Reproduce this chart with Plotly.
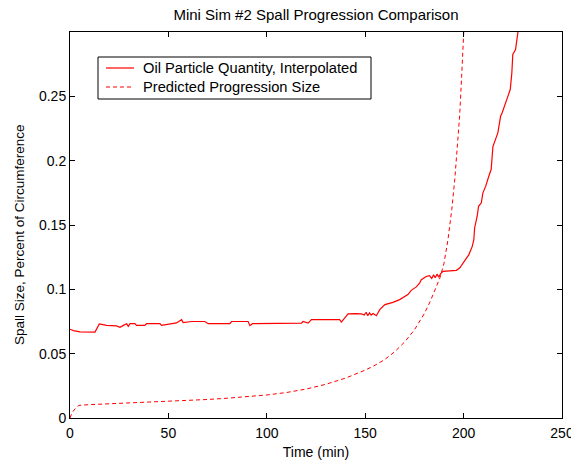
import plotly.graph_objects as go

# Oil particle quantity, interpolated (time in minutes, spall fraction of circumference)
oil_t = [0, 1.7, 5.1, 11.8, 12.7, 14.9, 18.6, 23.7, 25.4, 27.1, 28.8, 29.6, 30.5, 33.0, 33.8,
         38.0, 38.9, 45.7, 46.5, 54.1, 56.7, 57.5, 61.8, 68.5, 70.2, 81.2, 82.1, 90.5, 91.4,
         92.7, 96.4, 106.6, 117.6, 118.4, 121.0, 122.7, 137.0, 137.9, 141.3, 145.0, 148.1,
         149.5, 150.5, 151.3, 152.2, 153.0, 154.0, 155.7, 157.4, 160.0, 164.1, 167.5, 171.7,
         173.4, 176.0, 177.7, 178.5, 181.0, 182.7, 183.8, 184.8, 185.6, 186.5, 187.4, 188.3,
         189.5, 192.0, 196.3, 198.0, 200.5, 202.7, 204.4, 205.2, 205.6, 206.9, 207.6, 209.0,
         209.8, 211.2, 212.8, 214.0, 214.9, 216.6, 217.4, 218.8, 219.6, 222.5, 223.7, 224.5,
         225.0, 226.4, 227.6, 228.5]
oil_v = [0.0690, 0.0679, 0.0669, 0.0666, 0.0668, 0.0731, 0.0720, 0.0716, 0.0705, 0.0720, 0.0733,
         0.0712, 0.0733, 0.0733, 0.0720, 0.0720, 0.0733, 0.0733, 0.0720, 0.0739, 0.0764, 0.0742,
         0.0750, 0.0750, 0.0733, 0.0733, 0.0750, 0.0750, 0.0718, 0.0733, 0.0733, 0.0737, 0.0737,
         0.0750, 0.0737, 0.0764, 0.0764, 0.0746, 0.0809, 0.0811, 0.0809, 0.0800, 0.0822, 0.0795,
         0.0818, 0.0800, 0.0812, 0.0795, 0.0842, 0.0881, 0.0899, 0.0920, 0.0959, 0.0992, 0.1019,
         0.1050, 0.1075, 0.1100, 0.1106, 0.1085, 0.1112, 0.1090, 0.1118, 0.1095, 0.1120, 0.1140,
         0.1142, 0.1148, 0.1166, 0.1218, 0.1270, 0.1334, 0.1386, 0.1477, 0.1568, 0.1645, 0.1672,
         0.1750, 0.1800, 0.1879, 0.1931, 0.2110, 0.2190, 0.2216, 0.2345, 0.2372, 0.2500, 0.2553,
         0.2680, 0.2825, 0.2864, 0.3000, 0.3100]

# Predicted progression size from the model
pred_t = [0, 1, 2.5, 4.5, 10, 20, 30, 40, 50, 60, 70, 80, 90, 100, 110, 120, 130, 140, 150,
          155, 160, 165, 170, 175, 180, 183, 186, 188, 190, 192, 194, 195.5, 197, 198, 199,
          200, 201]
pred_v = [0.0, 0.004, 0.007, 0.0098, 0.0104, 0.0110, 0.0115, 0.0121, 0.0127, 0.0135, 0.0144,
          0.0154, 0.0166, 0.0179, 0.0198, 0.0225, 0.0262, 0.0310, 0.0372, 0.0410, 0.0455,
          0.0515, 0.0590, 0.0685, 0.0810, 0.0905, 0.1015, 0.1090, 0.1200, 0.1380, 0.1620,
          0.1850, 0.2150, 0.2350, 0.2650, 0.2950, 0.3300]

x_ticks = [0, 50, 100, 150, 200, 250]
y_ticks = [0, 0.05, 0.1, 0.15, 0.2, 0.25]
y_tick_text = ["0", "0.05", "0.1", "0.15", "0.2", "0.25"]

series_names = ["Oil Particle Quantity, Interpolated", "Predicted Progression Size"]
series_dash = ["solid", "4px,3px"]
series_width = [1.2, 1.0]

FONT = "Liberation Sans, Arial, Helvetica, sans-serif"
RED = "#ff0000"

W, H = 571, 460
ML, MR, MT, MB = 70, 9, 32, 42
PW, PH = W - ML - MR, H - MT - MB


def px_x(p):
    """Pixel column -> paper x."""
    return (p - ML) / PW


def px_y(p):
    """Pixel row -> paper y."""
    return (H - MB - p) / PH


fig = go.Figure()
for xs, ys, name, dash, lw in zip([oil_t, pred_t], [oil_v, pred_v], series_names,
                                  series_dash, series_width):
    fig.add_trace(go.Scatter(x=xs, y=ys, mode="lines", name=name, showlegend=False,
                             line=dict(color=RED, width=lw, dash=dash)))

axis_common = dict(showline=True, linecolor="black", linewidth=1, mirror="ticks",
                   ticks="inside", ticklen=5, tickwidth=1, tickcolor="black",
                   showgrid=False, zeroline=False, ticklabeloverflow="allow",
                   automargin=False,
                   tickfont=dict(family=FONT, size=14, color="black"))

# Legend box drawn in the upper-left corner of the axes
shapes = [dict(type="rect", xref="paper", yref="paper",
               x0=px_x(98), x1=px_x(371), y0=px_y(99), y1=px_y(57),
               line=dict(color="black", width=1), fillcolor="white", layer="above")]
annotations = []
for i, (name, dash, lw) in enumerate(zip(series_names, series_dash, series_width)):
    row = 68 + 19 * i
    shapes.append(dict(type="line", xref="paper", yref="paper",
                       x0=px_x(106), x1=px_x(134), y0=px_y(row), y1=px_y(row),
                       line=dict(color=RED, width=lw, dash=dash), layer="above"))
    annotations.append(dict(text=name, xref="paper", yref="paper",
                            x=px_x(141), y=px_y(row), xanchor="left", yanchor="middle",
                            showarrow=False,
                            font=dict(family=FONT, size=14.7, color="black")))

# Y-axis label
annotations.append(dict(text="Spall Size, Percent of Circumference", textangle=-90,
                        xref="paper", yref="paper", x=px_x(19), y=px_y(235),
                        xanchor="center", yanchor="middle", showarrow=False,
                        font=dict(family=FONT, size=13.5, color="black")))

fig.update_layout(
    width=W, height=H,
    margin=dict(l=ML, r=MR, t=MT, b=MB, autoexpand=False),
    paper_bgcolor="white", plot_bgcolor="white",
    font=dict(family=FONT, size=14, color="black"),
    title=dict(text="Mini Sim #2 Spall Progression Comparison",
               x=0.5, xref="paper", xanchor="center",
               y=1 - 15 / H, yref="container", yanchor="middle",
               font=dict(family=FONT, size=15, color="black")),
    xaxis=dict(range=[0, 250], tickvals=x_ticks, ticklabelstandoff=2,
               title=dict(text="Time (min)", standoff=10,
                          font=dict(family=FONT, size=14, color="black")),
               **axis_common),
    yaxis=dict(range=[0, 0.3], tickvals=y_ticks, ticktext=y_tick_text,
               **axis_common),
    shapes=shapes,
    annotations=annotations,
    showlegend=False,
)

fig.write_html("out.html")
